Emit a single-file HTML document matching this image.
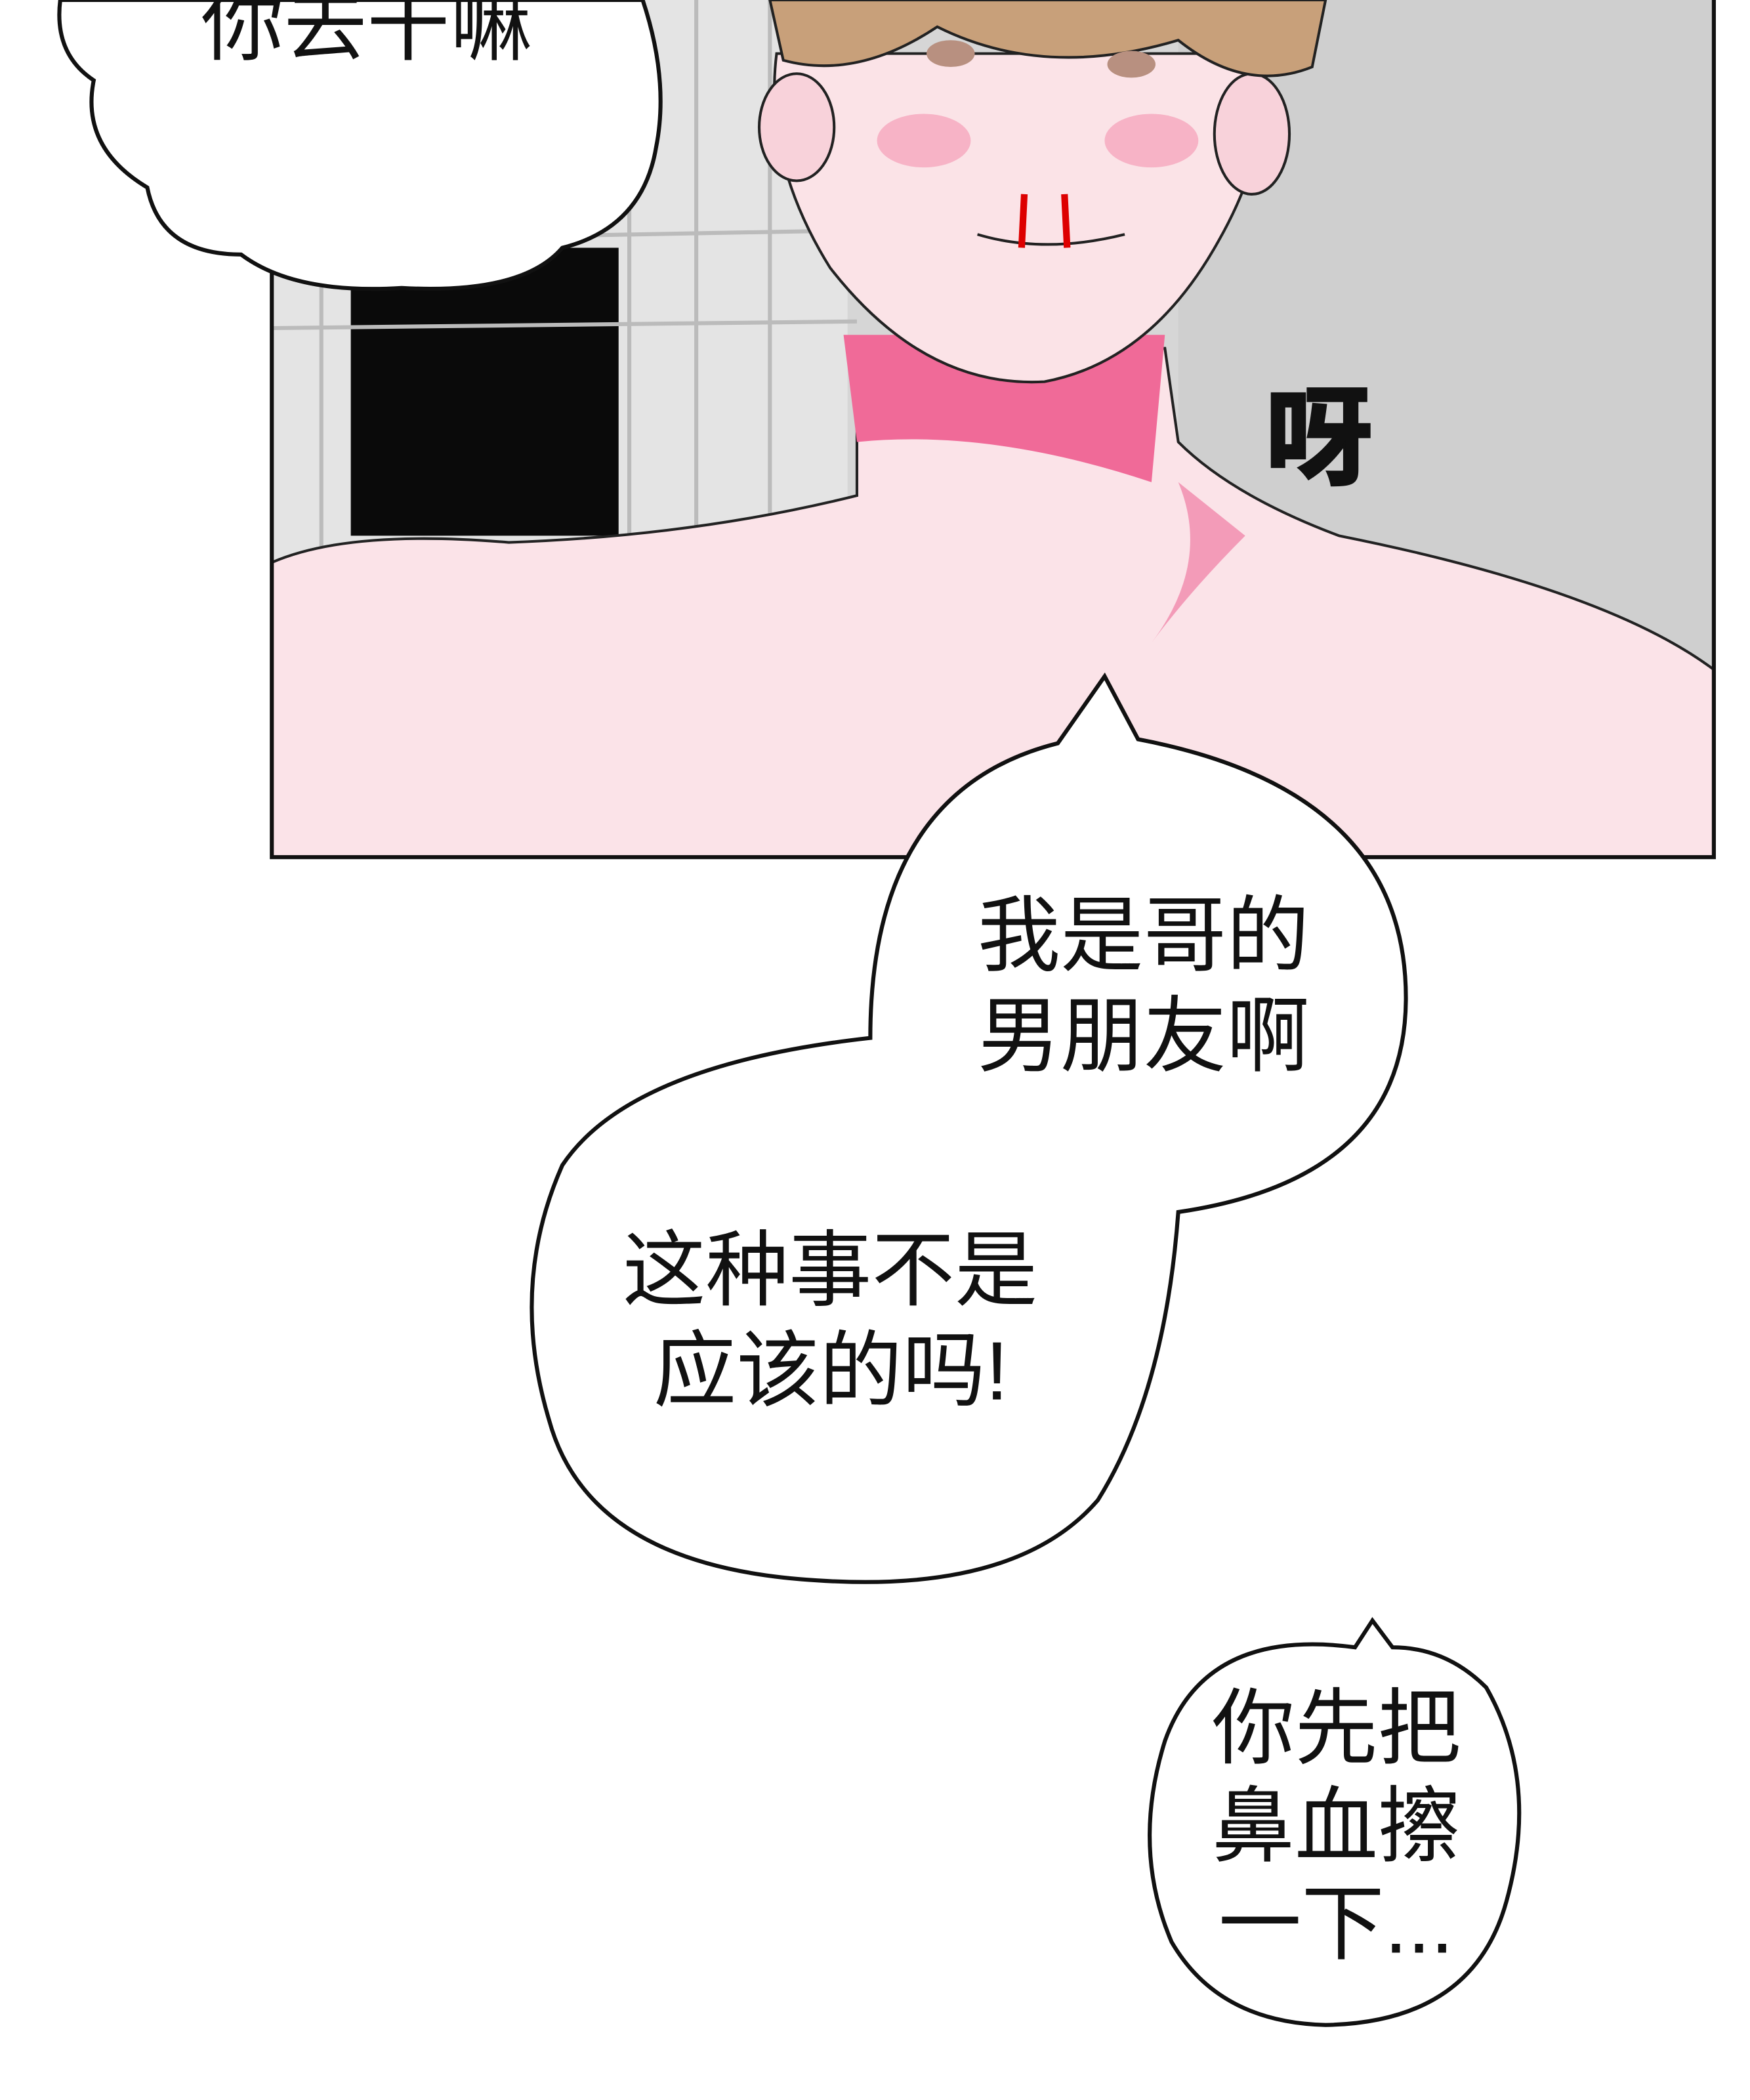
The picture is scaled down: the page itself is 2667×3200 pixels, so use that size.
<!DOCTYPE html>
<html><head><meta charset="utf-8"><style>
html,body{margin:0;padding:0;background:#fff;}
svg{display:block;}
text{font-family:"Liberation Sans","Noto Sans CJK SC",sans-serif;fill:#111;}
</style></head><body>
<svg width="2667" height="3200" viewBox="0 0 1307 1568" preserveAspectRatio="none" xmlns="http://www.w3.org/2000/svg">
<rect width="1307" height="1600" fill="#fff"/>
<clipPath id="p"><rect x="203" y="0" width="1077" height="640"/></clipPath>
<g clip-path="url(#p)">
<rect x="203" y="0" width="1077" height="640" fill="#d6d6d6"/>
<rect x="203" y="0" width="430" height="420" fill="#e4e4e4"/>
<rect x="262" y="185" width="200" height="215" fill="#0a0a0a"/>
<g stroke="#bbb" stroke-width="3">
<line x1="203" y1="180" x2="640" y2="172"/><line x1="203" y1="245" x2="640" y2="240"/>
<line x1="470" y1="0" x2="470" y2="420"/><line x1="520" y1="0" x2="520" y2="420"/><line x1="575" y1="0" x2="575" y2="420"/>
<line x1="240" y1="190" x2="240" y2="420"/>
</g>
<rect x="880" y="0" width="400" height="500" fill="#cfcfcf"/>
<path d="M203 420 Q260 395 380 405 Q520 400 640 370 L640 260 L870 260 L880 330 Q920 370 1000 400 Q1200 440 1280 500 L1280 640 L203 640 Z" fill="#fbe3e8" stroke="#222" stroke-width="2"/>
<path d="M630 250 L640 330 Q740 320 860 360 L870 250 Z" fill="#f06a98"/>
<path d="M880 360 Q905 420 860 480 Q890 440 930 400 Z" fill="#f39bb8"/>
<path d="M580 40 Q570 120 620 200 Q690 290 780 285 Q860 270 910 180 Q950 110 945 40 Z" fill="#fbe3e7" stroke="#222" stroke-width="2"/>
<ellipse cx="595" cy="95" rx="28" ry="40" fill="#f8d2da" stroke="#222" stroke-width="2"/>
<ellipse cx="935" cy="100" rx="28" ry="45" fill="#f8d2da" stroke="#222" stroke-width="2"/>
<path d="M575 0 L990 0 L980 50 Q930 70 880 30 Q780 60 700 20 Q640 60 585 45 Z" fill="#c8a07a" stroke="#222" stroke-width="2"/>
<ellipse cx="710" cy="40" rx="18" ry="10" fill="#b89080"/>
<ellipse cx="845" cy="48" rx="18" ry="10" fill="#b89080"/>
<ellipse cx="690" cy="105" rx="35" ry="20" fill="#f7b3c6"/>
<ellipse cx="860" cy="105" rx="35" ry="20" fill="#f7b3c6"/>
<path d="M730 175 Q780 190 840 175" stroke="#222" stroke-width="2" fill="none"/>
<path d="M765 145 L763 185 M795 145 L797 185" stroke="#d00" stroke-width="5"/>
</g>
<rect x="203" y="-3" width="1077" height="643" fill="none" stroke="#111" stroke-width="3"/>
<text x="945" y="355" font-size="80" font-weight="bold" style="stroke:#111;stroke-width:2">呀</text>
<path d="M45 0 Q40 40 70 60 Q60 110 110 140 Q120 190 180 190 Q220 220 300 215 Q390 220 420 185 Q480 170 490 110 Q500 60 480 0 Z" fill="#fff" stroke="#111" stroke-width="3"/>
<text x="150" y="40" font-size="62">你去干嘛</text>
<path d="M825 505 L850 552 Q1050 590 1050 745 Q1050 880 880 905 Q870 1040 820 1120 Q760 1190 610 1180 Q440 1170 410 1060 Q380 960 420 870 Q470 795 650 775 Q650 590 790 555 Z" fill="#fff" stroke="#111" stroke-width="3"/>
<text x="730" y="720" font-size="62">我是哥的</text>
<text x="730" y="795" font-size="62">男朋友啊</text>
<text x="465" y="970" font-size="62">这种事不是</text>
<text x="488" y="1045" font-size="62">应该的吗!</text>
<path d="M1025 1210 L1012 1230 Q900 1215 870 1300 Q845 1380 875 1450 Q910 1510 990 1512 Q1100 1510 1125 1420 Q1150 1330 1110 1260 Q1080 1230 1040 1230 Z" fill="#fff" stroke="#111" stroke-width="3"/>
<text x="905" y="1312" font-size="62">你先把</text>
<text x="905" y="1385" font-size="62">鼻血擦</text>
<text x="910" y="1458" font-size="62">一下...</text>
</svg>
</body></html>
